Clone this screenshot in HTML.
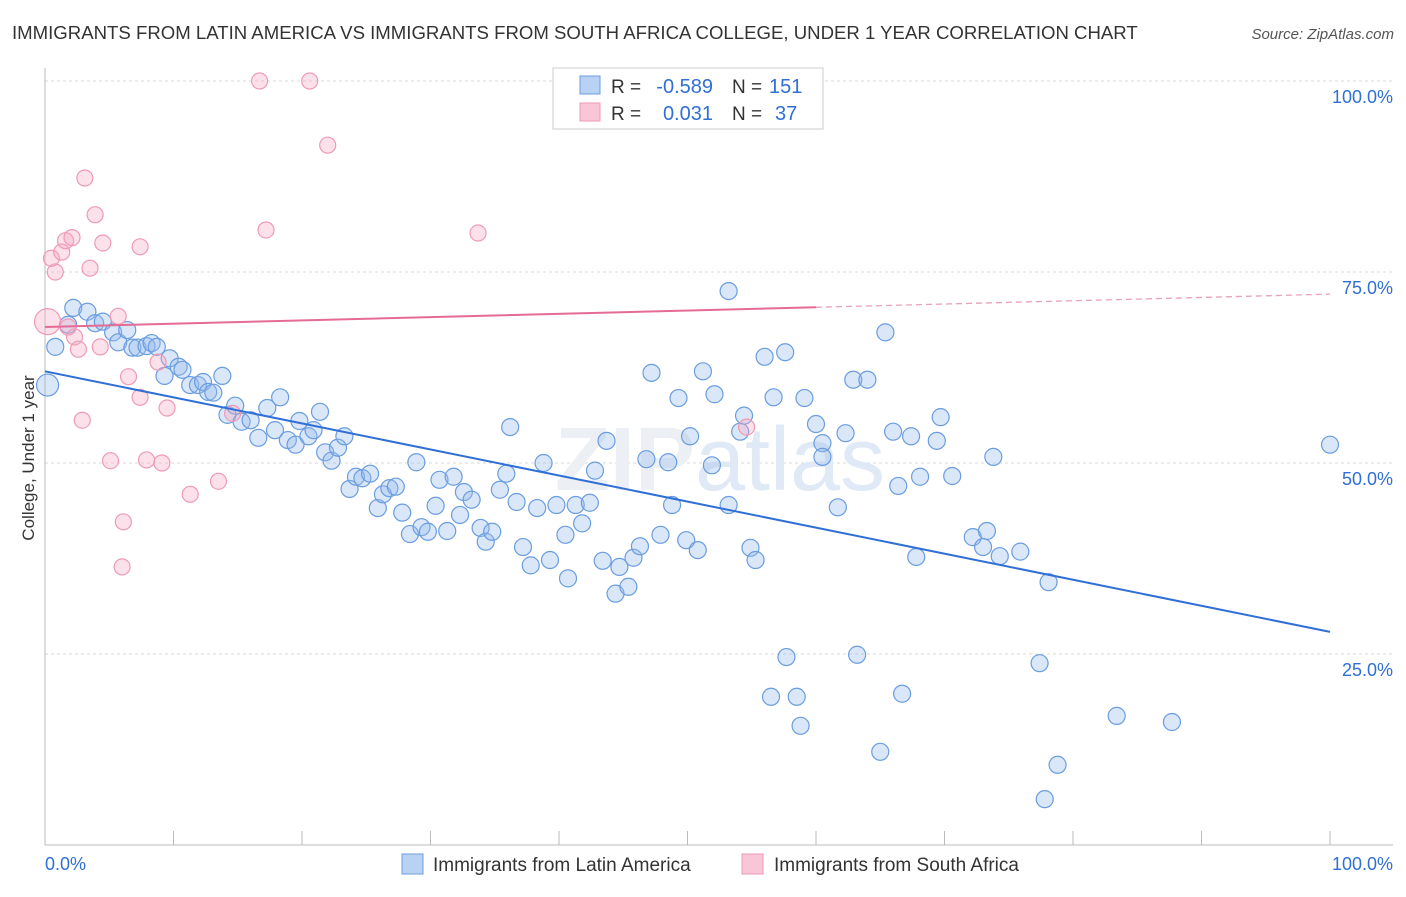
<!DOCTYPE html>
<html><head><meta charset="utf-8"><style>
body{margin:0;background:#fff;font-family:"Liberation Sans",sans-serif;}
</style></head><body>
<svg id="chart" width="1406" height="892" xmlns="http://www.w3.org/2000/svg" font-family="Liberation Sans, sans-serif">
<text x="12" y="39" font-size="18.6" fill="#333">IMMIGRANTS FROM LATIN AMERICA VS IMMIGRANTS FROM SOUTH AFRICA COLLEGE, UNDER 1 YEAR CORRELATION CHART</text>
<text x="1394" y="39" font-size="15" fill="#555" font-style="italic" text-anchor="end">Source: ZipAtlas.com</text>
<g id="grid"></g>
<text x="720" y="490" font-size="90" fill="#eceff3" text-anchor="middle" font-weight="bold">ZIP<tspan font-weight="normal" fill="#e0e9f6">atlas</tspan></text>
<g id="marks"></g>
<g id="lines"></g>
<g>
<rect x="553" y="68" width="270" height="61" fill="#fff" stroke="#ccc"/>
<rect x="580" y="76" width="20" height="18" fill="#b9d1f2" stroke="#6a9de0"/>
<rect x="580" y="103" width="20" height="18" fill="#f8c6d6" stroke="#ee9ab5"/>
<text x="611" y="93" font-size="19" fill="#333">R =</text>
<text x="713" y="93" font-size="20" fill="#2f6fd6" text-anchor="end">-0.589</text>
<text x="732" y="93" font-size="19" fill="#333">N =</text>
<text x="769" y="93" font-size="20" fill="#2f6fd6">151</text>
<text x="611" y="120" font-size="19" fill="#333">R =</text>
<text x="713" y="120" font-size="20" fill="#2f6fd6" text-anchor="end">0.031</text>
<text x="732" y="120" font-size="19" fill="#333">N =</text>
<text x="775" y="120" font-size="20" fill="#2f6fd6">37</text>
</g>
<text transform="translate(34,458) rotate(-90)" font-size="17" fill="#333" text-anchor="middle">College, Under 1 year</text>
<text x="45" y="870" font-size="18" fill="#2f6fd6">0.0%</text>
<text x="1393" y="870" font-size="18" fill="#2f6fd6" text-anchor="end">100.0%</text>
<g>
<rect x="402" y="854" width="21" height="20" fill="#b9d1f2" stroke="#6a9de0"/>
<text x="433" y="871" font-size="19" fill="#333">Immigrants from Latin America</text>
<rect x="742" y="854" width="21" height="20" fill="#f8c6d6" stroke="#ee9ab5"/>
<text x="774" y="871" font-size="19" fill="#333">Immigrants from South Africa</text>
</g>
</svg>
<script>
const blueX=[0.2,0.8,2.2,1.8,3.3,3.9,4.5,5.3,5.7,6.4,6.8,7.2,7.9,8.3,8.7,9.3,9.7,10.4,10.7,11.3,11.9,12.3,12.7,13.1,13.8,14.2,14.8,15.3,16.0,16.6,17.3,17.9,18.3,18.9,19.5,19.8,20.5,20.9,21.4,21.8,22.3,22.8,23.3,23.7,24.2,24.7,25.3,25.9,26.3,26.8,27.3,27.8,28.4,28.9,29.3,29.8,30.4,30.7,31.3,31.8,32.3,32.6,33.2,33.9,34.3,34.8,35.4,35.9,36.2,36.7,37.2,37.8,38.3,38.8,39.3,39.8,40.5,40.7,41.3,41.8,42.4,42.8,43.4,43.7,44.4,44.7,45.4,45.8,46.3,46.8,47.2,47.9,48.5,48.8,49.3,49.9,50.2,50.8,51.2,51.9,52.1,53.2,53.2,54.1,54.4,54.9,55.3,56.0,56.7,56.5,57.6,57.7,58.5,58.8,59.1,60.0,60.5,60.5,61.7,62.3,62.9,63.2,64.0,65.0,65.4,66.0,66.4,66.7,67.4,67.8,68.1,69.4,69.7,70.6,72.2,73.0,73.3,73.8,74.3,75.9,77.4,77.8,78.1,78.8,83.4,87.7,100];
const blueY=[60.2,65.2,70.3,68.1,69.8,68.3,68.5,67.1,65.8,67.4,65.1,65.1,65.3,65.7,65.2,61.4,63.7,62.6,62.2,60.2,60.2,60.6,59.3,59.2,61.4,56.3,57.5,55.4,55.6,53.3,57.2,54.3,58.6,53.0,52.4,55.5,53.5,54.3,56.7,51.4,50.3,52.0,53.5,46.6,48.2,48.0,48.6,44.1,45.9,46.7,46.9,43.5,40.7,50.1,41.6,41.0,44.4,47.8,41.1,48.2,43.2,46.2,45.2,41.5,39.7,41.0,46.5,48.6,54.7,44.9,39.0,36.6,44.1,50.0,37.3,44.5,40.6,34.9,44.5,42.1,44.8,49.0,37.2,52.9,32.9,36.4,33.8,37.6,39.1,50.5,61.8,40.6,50.1,44.5,58.5,39.9,53.5,38.6,62.0,49.7,59.0,44.5,72.5,54.1,56.2,38.9,37.3,63.9,58.6,19.4,64.5,24.6,19.4,15.6,58.5,55.1,52.6,50.8,44.2,53.9,60.9,24.9,60.9,12.2,67.1,54.1,47.0,19.8,53.5,37.7,48.2,52.9,56.0,48.3,40.3,39.0,41.1,50.8,37.8,38.4,23.8,6.0,34.4,10.5,16.9,16.1,52.4];
const pinkX=[0.2,0.8,0.5,1.3,1.6,2.1,3.1,3.5,3.9,4.5,7.4,16.7,20.6,22.0,17.2,33.7,1.8,2.3,2.6,4.3,5.7,6.5,7.4,8.8,9.5,2.9,5.1,7.9,9.1,11.3,13.5,6.1,6.0,14.6,54.6];
const pinkY=[68.5,75.0,76.8,77.6,79.1,79.5,87.3,75.5,82.5,78.8,78.3,100,100,91.6,80.5,80.1,67.8,66.5,64.9,65.2,69.2,61.3,58.6,63.2,57.2,55.6,50.3,50.4,50.0,45.9,47.6,42.3,36.4,56.5,54.7];
const blueTrend=[62.0,27.9]; // y at x=0, x=100
const pinkTrend=[67.8,72.1];
const yTicks=[25,50,75,100];
const yTickLabels=["25.0%","50.0%","75.0%","100.0%"];
const xTicks=[0,10,20,30,40,50,60,70,80,90,100];

const NS="http://www.w3.org/2000/svg";
const X=v=>45+v*12.85, Y=v=>845-v*7.64;
function mk(t,a,p){const e=document.createElementNS(NS,t);for(const k in a)e.setAttribute(k,a[k]);p.appendChild(e);return e;}
const grid=document.getElementById('grid'),marks=document.getElementById('marks'),lines=document.getElementById('lines');
yTicks.forEach((t,i)=>{
  const l=mk('line',{x1:45,x2:1393,y1:Y(t),y2:Y(t),stroke:'#d8d8d8','stroke-dasharray':'3,3'},grid);
  
  
  const tx=mk('text',{x:1393,y:Y(t)+22,'font-size':18,fill:'#2f6fd6','text-anchor':'end'},grid);
  tx.textContent=yTickLabels[i];
  
  
});
const ax=mk('line',{x1:45,x2:45,y1:68,y2:845,stroke:'#bbb'},grid);


const bx=mk('line',{x1:45,x2:1393,y1:845,y2:845,stroke:'#bbb'},grid);


xTicks.forEach(t=>{
  const l=mk('line',{x1:X(t),x2:X(t),y1:831,y2:845,stroke:'#bbb'},grid);
  
  
});
blueX.forEach((v,i)=>{
  const c=mk('circle',{cx:X(v),cy:Y(blueY[i]),r:i==0?11:8.5,fill:'rgba(150,185,235,0.35)',stroke:'#6a9de0','stroke-width':1.2},marks);
  
  
});
pinkX.forEach((v,i)=>{
  const c=mk('circle',{cx:X(v),cy:Y(pinkY[i]),r:i==0?13:8,fill:'rgba(245,170,195,0.35)',stroke:'#ee9ab5','stroke-width':1.2},marks);
  
  
});
const bl=mk('line',{x1:X(0),y1:Y(blueTrend[0]),x2:X(100),y2:Y(blueTrend[1]),stroke:'#2f6fd6','stroke-width':2},lines);


const pAt=x=>pinkTrend[0]+(pinkTrend[1]-pinkTrend[0])*x/100;
const pl=mk('line',{x1:X(0),y1:Y(pAt(0)),x2:X(60),y2:Y(pAt(60)),stroke:'#e46b95','stroke-width':2},lines);


const pd=mk('line',{x1:X(60),y1:Y(pAt(60)),x2:X(100),y2:Y(pAt(100)),stroke:'#e9a0b8','stroke-width':1.3,'stroke-dasharray':'6,4'},lines);


</script>
</body></html>
